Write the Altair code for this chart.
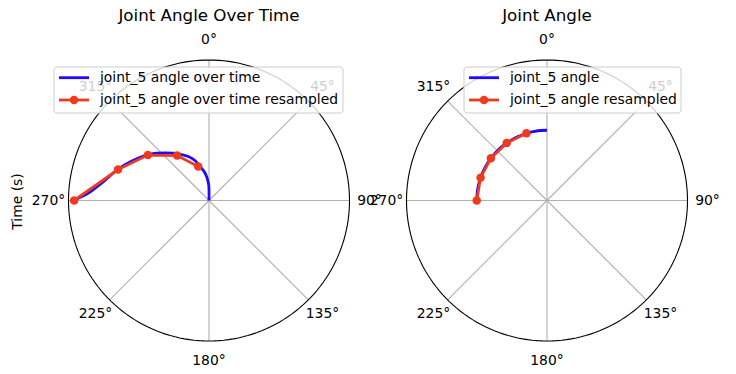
import altair as alt
import numpy as np
import pandas as pd

# ---------------- data ----------------
# Left panel: radius = time (s), theta = joint angle (deg, 0 at top, clockwise positive)
left_time = [0.0, 0.38, 0.55, 0.73, 0.86, 0.99, 1.12, 1.26, 1.51, 1.73, 1.99, 2.31,
             2.63, 2.93, 3.25, 3.50, 3.87, 4.30, 4.65, 4.80]
left_angle = [0.0, 0.0, -1.0, -3.6, -5.8, -8.3, -11.5, -14.8, -19.3, -25.2, -33.3, -42.9,
              -50.8, -59.0, -67.0, -72.9, -80.8, -86.5, -89.0, -90.0]
left_time_rs = [1.27, 1.96, 2.71, 3.42, 4.80]
left_angle_rs = [-17.6, -35.4, -53.4, -71.2, -90.0]
left_rmax = 5.0

# Right panel: joint angle on a constant radius
right_angle = [0, -5, -10, -15, -20, -25, -30, -35, -40, -45, -50, -55, -60, -65,
               -70, -75, -80, -85, -90]
right_r = [1.0] * len(right_angle)
right_angle_rs = [-17.0, -35.0, -53.0, -71.0, -90.0]
right_r_rs = [1.0] * len(right_angle_rs)
right_rmax = 2.0

tick_angles = [0, 45, 90, 135, 180, 225, 270, 315]
tick_labels = ["0°", "45°", "90°", "135°", "180°", "225°", "270°", "315°"]

titles = ["Joint Angle Over Time", "Joint Angle"]
legend_labels = [["joint_5 angle over time", "joint_5 angle over time resampled"],
                 ["joint_5 angle", "joint_5 angle resampled"]]
ylabel = "Time (s)"

# ---------------- layout (page pixels) ----------------
OFF = 8
W, H = 720, 358
R = 140.5
LABEL_R = 160.5
centers = [(209.0 - OFF, 200.5 - OFF), (547.0 - OFF, 200.5 - OFF)]
legend_boxes = [(54 - OFF, 343 - OFF), (464 - OFF, 681 - OFF)]
LEG_Y0, LEG_Y1 = 67 - OFF, 113 - OFF
FONT = "DejaVu Sans"
BLUE = "#1f0aff"
RED = "#f03a1f"


def to_xy(cx, cy, rho, theta):
    t = np.deg2rad(np.asarray(theta, dtype=float))
    rho = np.asarray(rho, dtype=float)
    return cx + rho * np.sin(t), cy - rho * np.cos(t)


# frame elements
spokes, circles, labels, ttl = [], [], [], []
circ_t = np.linspace(0, 360, 181)
for p, (cx, cy) in enumerate(centers):
    for a in tick_angles:
        x2, y2 = to_xy(cx, cy, R, a)
        spokes.append(dict(panel=p, x=cx, y=cy, x2=float(x2), y2=float(y2)))
    xs, ys = to_xy(cx, cy, np.full(circ_t.shape, R), circ_t)
    for i, (xx, yy) in enumerate(zip(xs, ys)):
        circles.append(dict(panel=p, order=i, x=xx, y=yy))
    for a, lab in zip(tick_angles, tick_labels):
        xx, yy = to_xy(cx, cy, LABEL_R, a)
        labels.append(dict(panel=p, x=float(xx), y=float(yy), text=lab))
    ttl.append(dict(x=cx, y=20.5 - OFF, text=titles[p]))

spokes = pd.DataFrame(spokes)
circles = pd.DataFrame(circles)
labels = pd.DataFrame(labels)
ttl = pd.DataFrame(ttl)

# data series
cx, cy = centers[0]
bx, by = to_xy(cx, cy, np.array(left_time) / left_rmax * R, left_angle)
rx, ry = to_xy(cx, cy, np.array(left_time_rs) / left_rmax * R, left_angle_rs)
cx2, cy2 = centers[1]
bx2, by2 = to_xy(cx2, cy2, np.array(right_r) / right_rmax * R, right_angle)
rx2, ry2 = to_xy(cx2, cy2, np.array(right_r_rs) / right_rmax * R, right_angle_rs)

blue = pd.concat([
    pd.DataFrame(dict(panel=0, order=range(len(bx)), x=bx, y=by)),
    pd.DataFrame(dict(panel=1, order=range(len(bx2)), x=bx2, y=by2)),
])
red = pd.concat([
    pd.DataFrame(dict(panel=0, order=range(len(rx)), x=rx, y=ry)),
    pd.DataFrame(dict(panel=1, order=range(len(rx2)), x=rx2, y=ry2)),
])

# legends
leg_box, leg_line, leg_pt, leg_txt = [], [], [], []
for p, (lx0, lx1) in enumerate(legend_boxes):
    leg_box.append(dict(x=lx0, x2=lx1, y=LEG_Y0, y2=LEG_Y1))
    ly = [77.7 - OFF, 100 - OFF]
    for k in range(2):
        leg_line.append(dict(panel=p, series=k, x=lx0 + 5, x2=lx0 + 35, y=ly[k]))
        leg_txt.append(dict(x=lx0 + 46, y=ly[k], text=legend_labels[p][k]))
    leg_pt.append(dict(x=lx0 + 20, y=ly[1]))
leg_box = pd.DataFrame(leg_box)
leg_line = pd.DataFrame(leg_line)
leg_pt = pd.DataFrame(leg_pt)
leg_txt = pd.DataFrame(leg_txt)

ylab = pd.DataFrame([dict(x=18 - OFF, y=201.5 - OFF, text=ylabel)])

# ---------------- chart ----------------
xs_ = alt.Scale(domain=[0, W], nice=False, zero=False)
ys_ = alt.Scale(domain=[0, H], nice=False, zero=False, reverse=True)
X = alt.X("x:Q", scale=xs_, axis=None)
Y = alt.Y("y:Q", scale=ys_, axis=None)

spoke_layer = alt.Chart(spokes).mark_rule(color="#b0b0b0", strokeWidth=1.1).encode(
    x=X, y=Y, x2="x2:Q", y2="y2:Q")
circle_layer = alt.Chart(circles).mark_line(color="black", strokeWidth=1.1).encode(
    x=X, y=Y, order="order:Q", detail="panel:N")
label_layer = alt.Chart(labels).mark_text(font=FONT, fontSize=13.9, color="black",
                                         align="center", baseline="middle").encode(
    x=X, y=Y, text="text:N")
title_layer = alt.Chart(ttl).mark_text(font=FONT, fontSize=16.7, color="black",
                                      align="center", baseline="alphabetic").encode(
    x=X, y=Y, text="text:N")
ylab_layer = alt.Chart(ylab).mark_text(font=FONT, fontSize=13.9, color="black",
                                      align="center", baseline="middle", angle=270).encode(
    x=X, y=Y, text="text:N")
blue_layer = alt.Chart(blue).mark_line(color=BLUE, strokeWidth=2.8,
                                      interpolate="catmull-rom").encode(
    x=X, y=Y, order="order:Q", detail="panel:N")
red_line = alt.Chart(red).mark_line(color=RED, strokeWidth=2.8).encode(
    x=X, y=Y, order="order:Q", detail="panel:N")
red_pts = alt.Chart(red).mark_circle(color=RED, opacity=1, size=72).encode(x=X, y=Y)

box_layer = alt.Chart(leg_box).mark_rect(fill="white", fillOpacity=0.8, stroke="#cccccc",
                                        strokeWidth=1, cornerRadius=3).encode(
    x=X, y=Y, x2="x2:Q", y2="y2:Q")
leg_blue = alt.Chart(leg_line).transform_filter("datum.series == 0").mark_rule(
    color=BLUE, strokeWidth=2.8).encode(x=X, y=Y, x2="x2:Q")
leg_red = alt.Chart(leg_line).transform_filter("datum.series == 1").mark_rule(
    color=RED, strokeWidth=2.8).encode(x=X, y=Y, x2="x2:Q")
leg_pts = alt.Chart(leg_pt).mark_circle(color=RED, opacity=1, size=72).encode(x=X, y=Y)
leg_text = alt.Chart(leg_txt).mark_text(font=FONT, fontSize=13.9, color="black",
                                       align="left", baseline="middle").encode(
    x=X, y=Y, text="text:N")

chart = alt.layer(
    spoke_layer, circle_layer, label_layer, title_layer, ylab_layer,
    blue_layer, red_line, red_pts,
    box_layer, leg_blue, leg_red, leg_pts, leg_text,
).properties(
    width=W, height=H, padding=0,
    autosize=alt.AutoSizeParams(type="none"),
).configure_view(stroke=None)

chart.save("out.html", embed_options={"renderer": "svg", "actions": False})
